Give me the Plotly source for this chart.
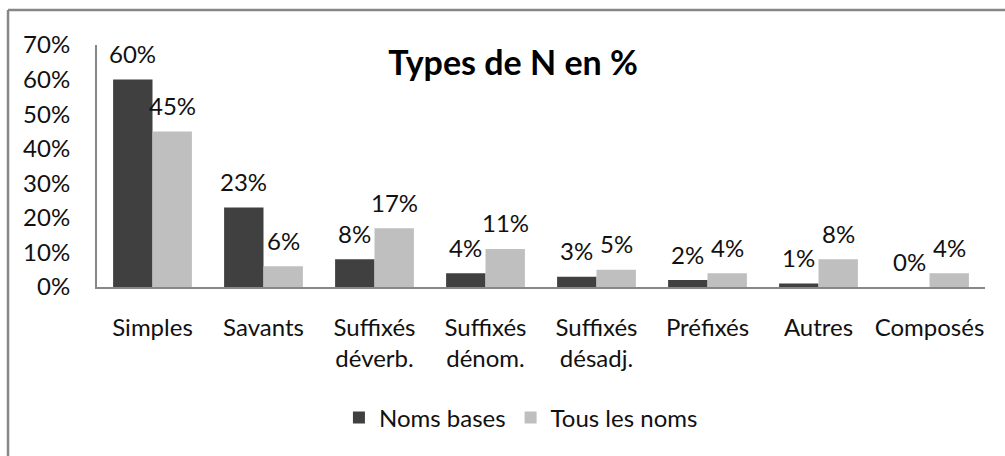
import plotly.graph_objects as go

# Données
categories = ['Simples', 'Savants', 'Suffixés<br>déverb.', 'Suffixés<br>dénom.',
              'Suffixés<br>désadj.', 'Préfixés', 'Autres', 'Composés']
noms_bases = [0.60, 0.23, 0.08, 0.04, 0.03, 0.02, 0.01, 0.00]
tous_noms = [0.45, 0.06, 0.17, 0.11, 0.05, 0.04, 0.08, 0.04]
y_ticks = [0, 0.1, 0.2, 0.3, 0.4, 0.5, 0.6, 0.7]

FONT = 'Lato'
COULEUR_FONCE = '#404040'
COULEUR_CLAIR = '#BFBFBF'
COULEUR_AXE = '#878787'

fig = go.Figure()

fig.add_trace(go.Bar(
    x=categories, y=noms_bases, name='Noms bases',
    marker=dict(color=COULEUR_FONCE, line=dict(width=0))
))
fig.add_trace(go.Bar(
    x=categories, y=tous_noms, name='Tous les noms',
    marker=dict(color=COULEUR_CLAIR, line=dict(width=0))
))

# Étiquettes de données au-dessus des barres
annotations = []
for serie, decal in [(noms_bases, -20), (tous_noms, 20)]:
    for cat, val in zip(categories, serie):
        annotations.append(dict(
            x=cat, y=val, xref='x', yref='y',
            text=f'{round(val * 100)}%', showarrow=False,
            xshift=decal, yshift=26, yanchor='middle',
            font=dict(family=FONT, size=24, color='#111111')
        ))

fig.update_layout(
    width=1005, height=456,
    margin=dict(l=97, r=20, t=45, b=169),
    paper_bgcolor='white', plot_bgcolor='white',
    font=dict(family=FONT, size=24, color='#111111'),
    barmode='group', bargap=0.29, bargroupgap=0,
    title=dict(
        text='<b>Types de N en %</b>',
        x=0.4685, y=0.9256, xref='paper', yref='paper',
        xanchor='center', yanchor='middle',
        font=dict(family=FONT, size=34, color='#000000')
    ),
    xaxis=dict(
        showline=True, linecolor=COULEUR_AXE, linewidth=2,
        showgrid=False, ticks='', ticklabelstandoff=18,
        tickfont=dict(family=FONT, size=24)
    ),
    yaxis=dict(
        range=[0, 0.7], tickvals=y_ticks, tickformat='.0%',
        showline=True, linecolor=COULEUR_AXE, linewidth=2,
        showgrid=False, zeroline=False, ticks='', ticklabelstandoff=20,
        tickfont=dict(family=FONT, size=24)
    ),
    showlegend=True,
    legend=dict(
        orientation='h', x=0.4774, y=-0.541,
        xanchor='center', yanchor='middle',
        font=dict(family=FONT, size=24),
        itemwidth=30, traceorder='normal'
    ),
    annotations=annotations,
    shapes=[
        dict(type='line', xref='paper', yref='paper',
             x0=-0.1002, x1=1.03, y0=1.1446, y1=1.1446,
             line=dict(color=COULEUR_AXE, width=2.5)),
        dict(type='line', xref='paper', yref='paper',
             x0=-0.1002, x1=-0.1002, y0=1.1446, y1=-0.72,
             line=dict(color=COULEUR_AXE, width=2.5)),
    ]
)

# la page ajoute une marge de 8px autour du graphique : on la retire
fig.write_html('out.html', config={'displayModeBar': False},
               post_script="document.body.style.margin='0px';")
